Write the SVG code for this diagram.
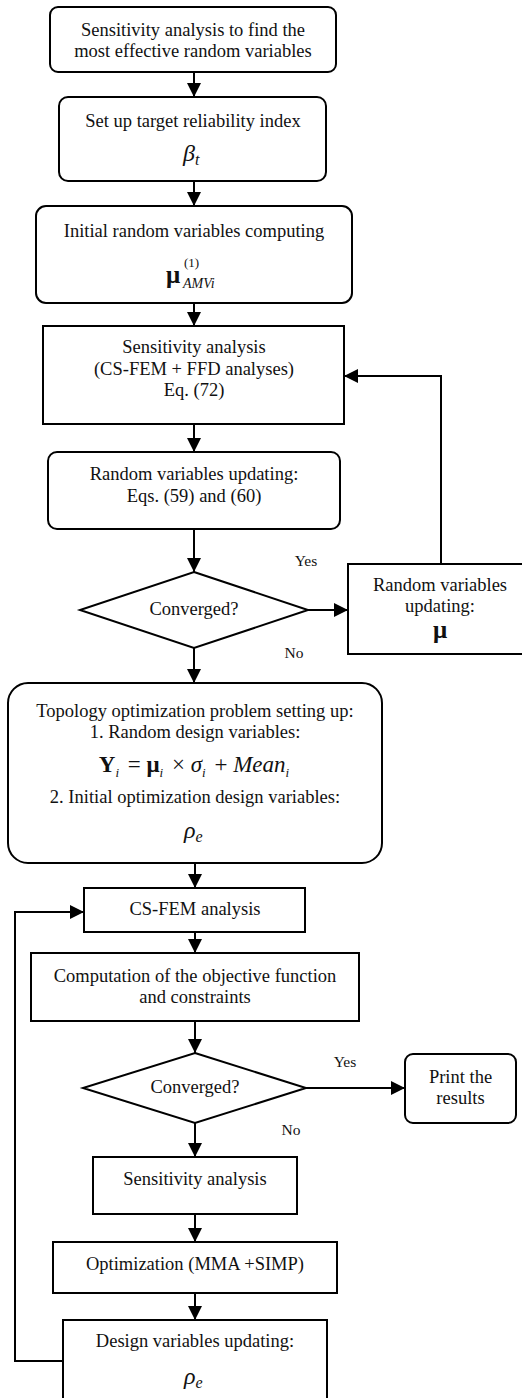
<svg xmlns="http://www.w3.org/2000/svg" width="522" height="1398" viewBox="0 0 522 1398">
  <style>
    .box { fill: #ffffff; stroke: #000000; stroke-width: 2; }
    .txt { font-family: "Liberation Serif", "Times New Roman", serif; font-size: 18.5px; fill: #111111; text-anchor: middle; }
    .lbl { font-family: "Liberation Serif", "Times New Roman", serif; font-size: 15.5px; fill: #111111; text-anchor: middle; }
    .math { font-family: "Liberation Serif", "Times New Roman", serif; fill: #111111; }
    .it { font-style: italic; }
    .bd { font-weight: bold; }
    .sub { font-style: italic; }
    .conn { fill: none; stroke: #000000; stroke-width: 2; }
  </style>
  <defs>
    <marker id="arrow" markerUnits="userSpaceOnUse" markerWidth="14" markerHeight="14" refX="14" refY="7" orient="auto">
      <path d="M0,0 L14,7 L0,14 z" fill="#000000"/>
    </marker>
  </defs>

  <rect width="522" height="1398" fill="#ffffff"/>

  <!-- connectors -->
  <g id="connectors">
    <line class="conn" x1="194" y1="72" x2="194" y2="97" marker-end="url(#arrow)"/>
    <line class="conn" x1="194" y1="181" x2="194" y2="206" marker-end="url(#arrow)"/>
    <line class="conn" x1="194" y1="303" x2="194" y2="326" marker-end="url(#arrow)"/>
    <line class="conn" x1="194" y1="424" x2="194" y2="452" marker-end="url(#arrow)"/>
    <line class="conn" x1="194" y1="529" x2="194" y2="572" marker-end="url(#arrow)"/>
    <line class="conn" x1="308" y1="610" x2="348" y2="610" marker-end="url(#arrow)"/>
    <polyline class="conn" points="441,564 441,376 344,376" marker-end="url(#arrow)"/>
    <line class="conn" x1="194" y1="648" x2="194" y2="683" marker-end="url(#arrow)"/>
    <line class="conn" x1="195" y1="863" x2="195" y2="888" marker-end="url(#arrow)"/>
    <line class="conn" x1="195" y1="932" x2="195" y2="953" marker-end="url(#arrow)"/>
    <line class="conn" x1="195" y1="1021" x2="195" y2="1053" marker-end="url(#arrow)"/>
    <line class="conn" x1="306" y1="1088" x2="405" y2="1088" marker-end="url(#arrow)"/>
    <line class="conn" x1="195" y1="1123" x2="195" y2="1157" marker-end="url(#arrow)"/>
    <line class="conn" x1="195" y1="1214" x2="195" y2="1242" marker-end="url(#arrow)"/>
    <line class="conn" x1="195" y1="1293" x2="195" y2="1320" marker-end="url(#arrow)"/>
    <polyline class="conn" points="63,1361 15,1361 15,912 84,912" marker-end="url(#arrow)"/>
    <text class="lbl" x="306" y="566">Yes</text>
    <text class="lbl" x="294" y="658">No</text>
    <text class="lbl" x="345" y="1067">Yes</text>
    <text class="lbl" x="291" y="1135">No</text>
  </g>

  <!-- start: screening of random variables -->
  <g id="n1">
    <rect class="box" x="50" y="7" width="286" height="65" rx="8"/>
    <text class="txt" x="193" y="36">Sensitivity analysis to find the</text>
    <text class="txt" x="193" y="57">most effective random variables</text>
  </g>

  <g id="n2">
    <rect class="box" x="59" y="97" width="267" height="84" rx="9"/>
    <text class="txt" x="193" y="127">Set up target reliability index</text>
    <text class="math" x="183" y="161" style="font-size:24px"><tspan class="it">β</tspan><tspan class="sub" dy="4" style="font-size:16px">t</tspan></text>
  </g>

  <g id="n3">
    <rect class="box" x="36" y="206" width="316" height="97" rx="10"/>
    <text class="txt" x="194" y="237">Initial random variables computing</text>
    <text class="math bd" x="166" y="283" style="font-size:25px">μ</text>
    <text class="math" x="184" y="267" style="font-size:13px">(1)</text>
    <text class="math it" x="183" y="288" style="font-size:14px">AMVi</text>
  </g>

  <g id="n4">
    <rect class="box" x="43" y="326" width="301" height="98"/>
    <text class="txt" x="194" y="353">Sensitivity analysis</text>
    <text class="txt" x="194" y="375">(CS-FEM + FFD analyses)</text>
    <text class="txt" x="194" y="396">Eq. (72)</text>
  </g>

  <g id="n5">
    <rect class="box" x="48" y="452" width="292" height="77" rx="9"/>
    <text class="txt" x="194" y="480">Random variables updating:</text>
    <text class="txt" x="194" y="502">Eqs. (59) and (60)</text>
  </g>

  <g id="n6">
    <polygon class="box" points="194,572 308,610 194,648 80,610"/>
    <text class="txt" x="194" y="615">Converged?</text>
  </g>

  <g id="n7">
    <rect class="box" x="348" y="564" width="180" height="90"/>
    <text class="txt" x="440" y="591">Random variables</text>
    <text class="txt" x="440" y="612">updating:</text>
    <text class="math bd" x="440" y="638" text-anchor="middle" style="font-size:25px">μ</text>
  </g>

  <!-- problem set-up -->
  <g id="n8">
    <rect class="box" x="8" y="683" width="374" height="180" rx="20"/>
    <text class="txt" x="195" y="717">Topology optimization problem setting up:</text>
    <text class="txt" x="195" y="738">1. Random design variables:</text>
    <text class="math" x="194" y="772" text-anchor="middle" style="font-size:23px"><tspan class="bd">Y</tspan><tspan class="sub" dy="5" style="font-size:13px">i</tspan><tspan dy="-5" dx="3"> = </tspan><tspan class="bd">μ</tspan><tspan class="sub" dy="5" style="font-size:13px">i</tspan><tspan dy="-5" dx="3"> × </tspan><tspan class="it">σ</tspan><tspan class="sub" dy="5" style="font-size:13px">i</tspan><tspan dy="-5" dx="3"> + </tspan><tspan class="it">Mean</tspan><tspan class="sub" dy="5" style="font-size:13px">i</tspan></text>
    <text class="txt" x="195" y="803">2. Initial optimization design variables:</text>
    <text class="math" x="184" y="838" style="font-size:24px"><tspan class="it">ρ</tspan><tspan class="sub" dy="4" style="font-size:16px">e</tspan></text>
  </g>

  <!-- optimization loop -->
  <g id="n9">
    <rect class="box" x="84" y="888" width="221" height="44"/>
    <text class="txt" x="195" y="915">CS-FEM analysis</text>
  </g>

  <g id="n10">
    <rect class="box" x="31" y="953" width="328" height="68"/>
    <text class="txt" x="195" y="982">Computation of the objective function</text>
    <text class="txt" x="195" y="1003">and constraints</text>
  </g>

  <g id="n11">
    <polygon class="box" points="195,1053 306,1088 195,1123 83,1088"/>
    <text class="txt" x="195" y="1093">Converged?</text>
  </g>

  <g id="n12">
    <rect class="box" x="405" y="1054" width="111" height="69" rx="8"/>
    <text class="txt" x="460.5" y="1083">Print the</text>
    <text class="txt" x="460.5" y="1104">results</text>
  </g>

  <g id="n13">
    <rect class="box" x="93" y="1157" width="204" height="57"/>
    <text class="txt" x="195" y="1185">Sensitivity analysis</text>
  </g>

  <g id="n14">
    <rect class="box" x="53" y="1242" width="284" height="51"/>
    <text class="txt" x="195" y="1270">Optimization (MMA +SIMP)</text>
  </g>

  <g id="n15">
    <rect class="box" x="63" y="1320" width="264" height="84"/>
    <text class="txt" x="195" y="1347">Design variables updating:</text>
    <text class="math" x="184" y="1384" style="font-size:24px"><tspan class="it">ρ</tspan><tspan class="sub" dy="4" style="font-size:16px">e</tspan></text>
  </g>
</svg>
